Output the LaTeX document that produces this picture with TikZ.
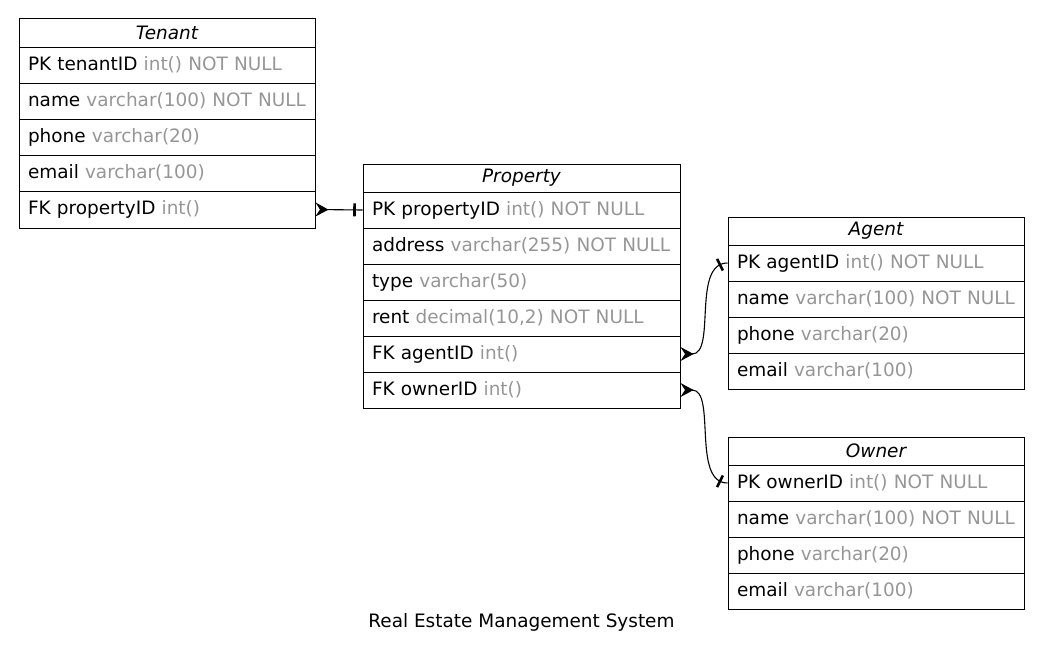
\documentclass[tikz,border=0pt]{standalone}
\usepackage{fontspec}
\setmainfont{DejaVu Sans}
\usetikzlibrary{arrows.meta}
\definecolor{typegray}{RGB}{150,150,150}

\begin{document}
\begin{tikzpicture}[x=1pt,y=-1pt,
  font=\fontsize{18.45}{22}\selectfont,
  cell/.style={draw, line width=1pt, inner sep=0pt, align=left},
  narrow/.style={cell, minimum width=296pt, text width=278pt},
  wide/.style={cell, minimum width=317pt, text width=299pt},
  row/.style={minimum height=36pt},
  head/.style={minimum height=28pt, align=center, font=\fontsize{18.45}{22}\selectfont\itshape},
  rel/.style={line width=1.1pt, {Stealth[reversed, length=13pt, width=14pt, inset=4.5pt]}-},
  tee/.style={fill=black, inner sep=0pt, minimum width=2.6pt, minimum height=13pt, sloped}]

\useasboundingbox (0,0) rectangle (1044,659);

% Tenant
\node[narrow, head, minimum height=29pt] (t0) at (167,32.5) {Tenant};
\node[narrow, row] (t1) at (167,65)  {PK tenantID \textcolor{typegray}{int() NOT NULL}};
\node[narrow, row] (t2) at (167,101) {name \textcolor{typegray}{varchar(100) NOT NULL}};
\node[narrow, row] (t3) at (167,137) {phone \textcolor{typegray}{varchar(20)}};
\node[narrow, row] (t4) at (167,173) {email \textcolor{typegray}{varchar(100)}};
\node[narrow, row, minimum height=37pt] (t5) at (167,209.5) {FK propertyID \textcolor{typegray}{int()}};

% Property
\node[wide, head] (p0) at (521.5,178) {Property};
\node[wide, row] (p1) at (521.5,210) {PK propertyID \textcolor{typegray}{int() NOT NULL}};
\node[wide, row] (p2) at (521.5,246) {address \textcolor{typegray}{varchar(255) NOT NULL}};
\node[wide, row] (p3) at (521.5,282) {type \textcolor{typegray}{varchar(50)}};
\node[wide, row] (p4) at (521.5,318) {rent \textcolor{typegray}{decimal(10,2) NOT NULL}};
\node[wide, row] (p5) at (521.5,354) {FK agentID \textcolor{typegray}{int()}};
\node[wide, row] (p6) at (521.5,390) {FK ownerID \textcolor{typegray}{int()}};

% Agent
\node[narrow, head] (a0) at (876,231) {Agent};
\node[narrow, row] (a1) at (876,263) {PK agentID \textcolor{typegray}{int() NOT NULL}};
\node[narrow, row] (a2) at (876,299) {name \textcolor{typegray}{varchar(100) NOT NULL}};
\node[narrow, row] (a3) at (876,335) {phone \textcolor{typegray}{varchar(20)}};
\node[narrow, row] (a4) at (876,371) {email \textcolor{typegray}{varchar(100)}};

% Owner
\node[narrow, head] (o0) at (876,451) {Owner};
\node[narrow, row] (o1) at (876,483) {PK ownerID \textcolor{typegray}{int() NOT NULL}};
\node[narrow, row] (o2) at (876,519) {name \textcolor{typegray}{varchar(100) NOT NULL}};
\node[narrow, row] (o3) at (876,555) {phone \textcolor{typegray}{varchar(20)}};
\node[narrow, row] (o4) at (876,591) {email \textcolor{typegray}{varchar(100)}};

% Relationships: many side (crow) at the start, one side (tee) near the end
\draw[rel] (t5.east) -- (p1.west) node[tee, pos=0.83] {};
\draw[rel] (p5.east) .. controls +(36,0) and +(-36,0) .. (a1.west) node[tee, pos=0.92] {};
\draw[rel] (p6.east) .. controls +(36,0) and +(-36,0) .. (o1.west) node[tee, pos=0.92] {};

% Caption
\node (caption) at (521.5,622) {Real Estate Management System};
\end{tikzpicture}
\end{document}
